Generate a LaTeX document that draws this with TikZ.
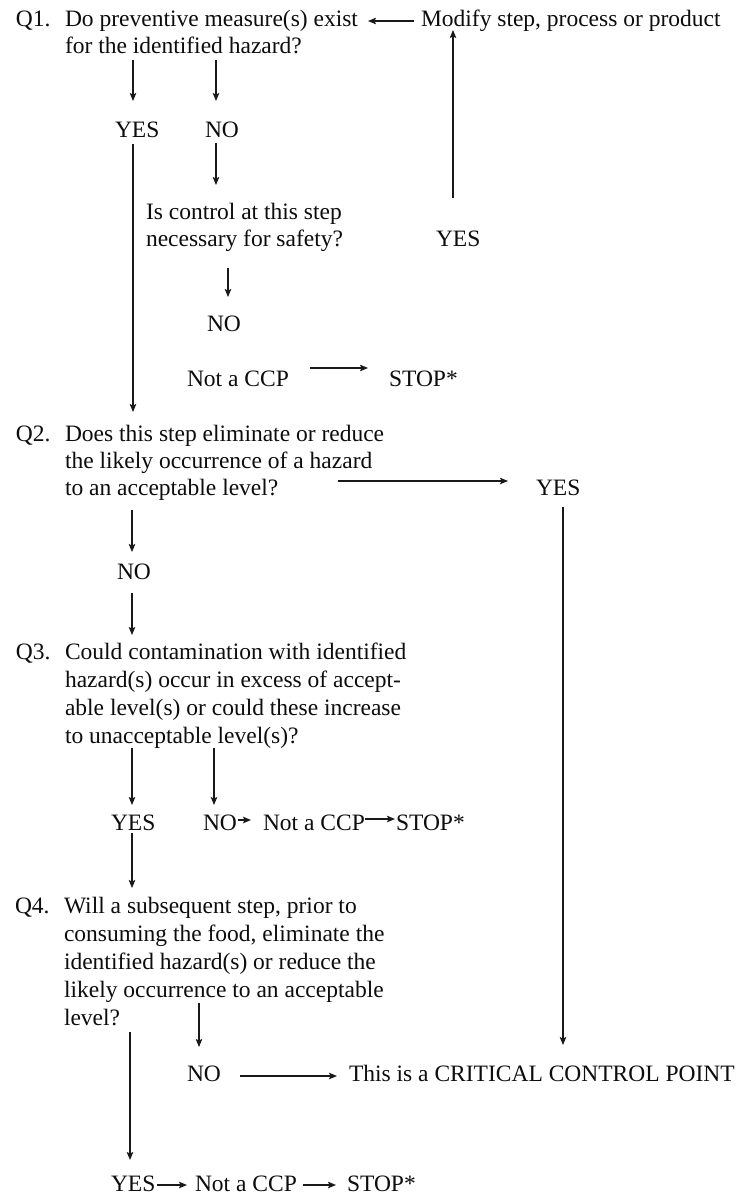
\documentclass[tikz,border=0pt]{standalone}
\usepackage{fontspec}
\setmainfont{Liberation Serif}
\usetikzlibrary{arrows.meta,calc}
\newcommand\dfont{\fontsize{23.5}{28}\selectfont}
\tikzset{
  txt/.style={anchor=base west, inner sep=0pt, outer sep=0pt, font=\dfont, text=black!95},
  arr/.style={line width=1.1pt, draw=black!90, -{Stealth[length=8pt,width=6.5pt,inset=1.5pt]}},
}
\begin{document}
\begin{tikzpicture}[x=1pt,y=-1pt]
\fill[white] (0,0) rectangle (738,1197);
\useasboundingbox (0,0) rectangle (738,1197);

% Q1
\node[txt] (q1l) at (16,26) {Q1.};
\node[txt] (q1a) at (65,26) {Do preventive measure(s) exist};
\node[txt] (q1b) at (65,53) {for the identified hazard?};
\node[txt] (mod) at (421,26) {Modify step, process or product};
\node[txt] (yes1) at (115,137) {YES};
\node[txt] (no1) at (205,137) {NO};
\node[txt] (ctl1) at (146,219) {Is control at this step};
\node[txt] (ctl2) at (146,246) {necessary for safety?};
\node[txt] (yesR) at (436,246) {YES};
\node[txt] (no2) at (207,331) {NO};
\node[txt] (ncc1) at (187,386) {Not a CCP};
\node[txt] (stop1) at (389,386) {STOP*};

% Q2
\node[txt] (q2l) at (16,441) {Q2.};
\node[txt] (q2a) at (65,441) {Does this step eliminate or reduce};
\node[txt] (q2b) at (65,468) {the likely occurrence of a hazard};
\node[txt] (q2c) at (65,495) {to an acceptable level?};
\node[txt] (yes2) at (536,495) {YES};
\node[txt] (no3) at (117,579) {NO};

% Q3
\node[txt] (q3l) at (16,659) {Q3.};
\node[txt] (q3a) at (65,659) {Could contamination with identified};
\node[txt] (q3b) at (65,687) {hazard(s) occur in excess of accept-};
\node[txt] (q3c) at (65,715) {able level(s) or could these increase};
\node[txt] (q3d) at (65,743) {to unacceptable level(s)?};
\node[txt] (yes3) at (111,830) {YES};
\node[txt] (no4) at (203,830) {NO};
\node[txt] (ncc2) at (263,830) {Not a CCP};
\node[txt] (stop2) at (396,830) {STOP*};

% Q4
\node[txt] (q4l) at (15,913) {Q4.};
\node[txt] (q4a) at (64,913) {Will a subsequent step, prior to};
\node[txt] (q4b) at (64,941) {consuming the food, eliminate the};
\node[txt] (q4c) at (64,969) {identified hazard(s) or reduce the};
\node[txt] (q4d) at (64,997) {likely occurrence to an acceptable};
\node[txt] (q4e) at (64,1025) {level?};
\node[txt] (no5) at (187,1081) {NO};
\node[txt] (ccp) at (349,1081) {This is a CRITICAL CONTROL POINT};
\node[txt] (yes4) at (111,1191) {YES};
\node[txt] (ncc3) at (195,1191) {Not a CCP};
\node[txt] (stop3) at (347,1191) {STOP*};

% connectors
\draw[arr] ($(mod.base west)+(-7,-5)$) -- ($(q1a.base east)+(10,-5)$);
\draw[arr] ($(yesR.base west)+(17,-48)$) -- ($(mod.base west)+(32,4)$);
\draw[arr] ($(yes1.base west |- q1b.base)+(18,7)$) -- ($(yes1.base west)+(18,-36)$);
\draw[arr] ($(no1.base west |- q1b.base)+(11,7)$) -- ($(no1.base west)+(11,-36)$);
\draw[arr] ($(no1.base west)+(11,6)$) -- ($(ctl1.base west)+(70,-34)$);
\draw[arr] ($(ctl2.base west)+(82,22)$) -- ($(no2.base west)+(21,-34)$);
\draw[arr] ($(ncc1.base east)+(21,-18)$) -- ($(stop1.base west)+(-21,-18)$);
\draw[arr] ($(yes1.base west)+(18,7)$) -- ($(q2a.base west)+(68,-29)$);
\draw[arr] ($(q2c.base east)+(60,-14)$) -- ($(yes2.base west)+(-28,-14)$);
\draw[arr] ($(yes2.base west)+(27,12)$) -- ($(ccp.base west)+(214,-36)$);
\draw[arr] ($(q2c.base west)+(67,15)$) -- ($(no3.base west)+(15,-27)$);
\draw[arr] ($(no3.base west)+(15,14)$) -- ($(q3a.base west)+(67,-24)$);
\draw[arr] ($(q3d.base west)+(67,5)$) -- ($(yes3.base west)+(21,-25)$);
\draw[arr] ($(q3d.base west)+(149,5)$) -- ($(no4.base west)+(11,-25)$);
\draw[arr] ($(no4.base east)+(1,-10)$) -- ($(ncc2.base west)+(-12,-10)$);
\draw[arr] ($(ncc2.base east)+(0,-11)$) -- ($(stop2.base west)+(-1,-11)$);
\draw[arr] ($(yes3.base west)+(21,3)$) -- ($(q4a.base west)+(68,-25)$);
\draw[arr] ($(q4d.base west)+(135,6)$) -- ($(no5.base west)+(12,-34)$);
\draw[arr] ($(no5.base east)+(19,-5)$) -- ($(ccp.base west)+(-12,-5)$);
\draw[arr] ($(q4e.base west)+(66,7)$) -- ($(yes4.base west)+(19,-31)$);
\draw[arr] ($(yes4.base east)+(2,-6)$) -- ($(ncc3.base west)+(-8,-6)$);
\draw[arr] ($(ncc3.base east)+(6,-6)$) -- ($(stop3.base west)+(-11,-6)$);
\end{tikzpicture}
\end{document}
